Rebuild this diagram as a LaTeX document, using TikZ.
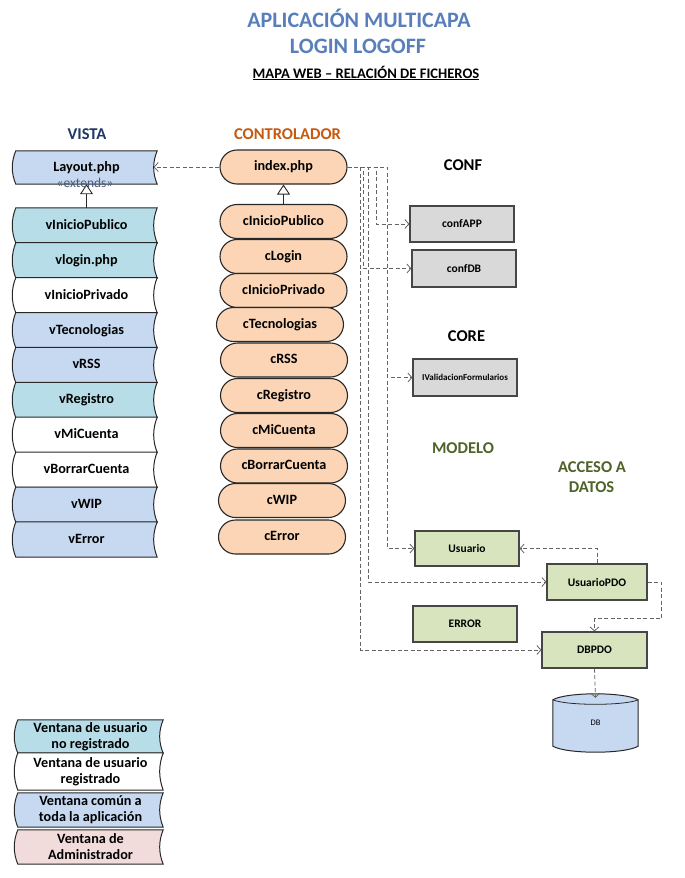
\documentclass[tikz,border=0pt]{standalone}
\usepackage{fontspec}
\setmainfont{Carlito}
\usetikzlibrary{arrows.meta,shapes.misc,backgrounds,calc}
\definecolor{titleblue}{RGB}{88,127,187}
\definecolor{vistacol}{RGB}{31,56,100}
\definecolor{ctrlcol}{RGB}{197,90,17}
\definecolor{olivecol}{RGB}{79,98,40}
\definecolor{vblue}{RGB}{198,217,241}
\definecolor{vteal}{RGB}{183,222,232}
\definecolor{vpink}{RGB}{242,220,219}
\definecolor{peach}{RGB}{251,213,181}
\definecolor{boxgray}{RGB}{217,217,217}
\definecolor{boxgreen}{RGB}{215,228,189}
\definecolor{edgecol}{RGB}{40,40,40}
\definecolor{redge}{RGB}{70,70,70}
\definecolor{dashcol}{RGB}{100,100,100}
\definecolor{extcol}{RGB}{75,90,125}
\newcommand\mybox{\fontsize{14.2}{17}\selectfont\bfseries}
\newcommand\myhead{\fontsize{16.5}{20}\selectfont\bfseries}
\newcommand\mytitle{\fontsize{22}{26}\selectfont\bfseries}
\newcommand\myrfont{\fontsize{11.5}{14}\selectfont\bfseries}
\newcommand\tapeoutline[2]{%
 \begin{pgfonlayer}{background}
 \draw[tapeline,fill=#2] (#1.north west) -- (#1.north east)
  .. controls ($(#1.north east)!0.333!(#1.south east)+(-4.7,0)$) and ($(#1.north east)!0.667!(#1.south east)+(-4.7,0)$) .. (#1.south east)
  -- (#1.south west)
  .. controls ($(#1.south west)!0.333!(#1.north west)+(-4.7,0)$) and ($(#1.south west)!0.667!(#1.north west)+(-4.7,0)$) .. (#1.north west) -- cycle;
 \end{pgfonlayer}}
\tikzset{
 vbox/.style={rectangle, minimum width=141pt, minimum height=34.9pt, inner sep=0pt, font=\mybox, text height=9.8pt, text depth=2pt},
 lbox/.style={rectangle, minimum width=145pt, inner sep=0pt, font=\mybox, align=center},
 pill/.style={rounded rectangle, draw=edgecol, line width=1.1pt, fill=peach, minimum width=127pt, minimum height=34pt, inner sep=0pt, font=\mybox, text height=9.8pt, text depth=2pt},
 rbox/.style={rectangle, draw=redge, line width=1.2pt, minimum width=104pt, minimum height=36pt, inner sep=0pt, font=\myrfont},
 dep/.style={dashcol, line width=0.8pt, dash pattern=on 4pt off 2.5pt, -{Straight Barb[length=4pt,width=9pt]}},
 inh/.style={edgecol, line width=0.9pt, -{Triangle[open,length=10pt,width=13pt,fill=white]}},
 tapeline/.style={draw=edgecol, line width=1pt},
 headlbl/.style={font=\myhead, anchor=base, inner sep=0pt},
 extlbl/.style={font=\fontsize{13.5}{15}\selectfont, text=extcol, inner sep=0pt},
}
\begin{document}
\begin{tikzpicture}[x=1pt,y=-1pt]
\useasboundingbox (0,0) rectangle (685,878);
\begin{pgfonlayer}{background}
\fill[white] (0,0) rectangle (685,878);
\end{pgfonlayer}

% titles
\node[font=\mytitle, text=titleblue, anchor=base, inner sep=0pt] (t1) at (359,27.5) {APLICACIÓN MULTICAPA};
\node[font=\mytitle, text=titleblue, anchor=base, inner sep=0pt] (t2) at (358,53) {LOGIN LOGOFF};
\node[font=\fontsize{14.6}{17}\selectfont\bfseries, anchor=base, inner sep=0pt] (sub) at (366,78) {\underline{MAPA WEB – RELACIÓN DE FICHEROS}};

% headings
\node[headlbl, text=vistacol] (hv) at (87,139) {VISTA};
\node[headlbl, text=ctrlcol] (hc) at (287.5,139) {CONTROLADOR};
\node[headlbl] (hconf) at (463,170) {CONF};
\node[headlbl] (hcore) at (466.5,341) {CORE};
\node[headlbl, text=olivecol] (hmod) at (463,453) {MODELO};
\node[headlbl, text=olivecol] (hacc) at (592,472) {ACCESO A};
\node[headlbl, text=olivecol] (hdat) at (591.5,492) {DATOS};

% VISTA column
\node[vbox, minimum height=33pt] (layout) at (86.5,167.5) {Layout.php};
\tapeoutline{layout}{vblue}
\node[vbox] (vip) at (86.5,225.45) {vInicioPublico};
\tapeoutline{vip}{vteal}
\node[vbox] (vlog) at (86.5,260.35) {vlogin.php};
\tapeoutline{vlog}{vteal}
\node[vbox] (vipr) at (86.5,295.25) {vInicioPrivado};
\tapeoutline{vipr}{white}
\node[vbox] (vtec) at (86.5,330.15) {vTecnologias};
\tapeoutline{vtec}{vblue}
\node[vbox] (vrss) at (86.5,365.05) {vRSS};
\tapeoutline{vrss}{vblue}
\node[vbox] (vreg) at (86.5,399.95) {vRegistro};
\tapeoutline{vreg}{vteal}
\node[vbox] (vmi) at (86.5,434.85) {vMiCuenta};
\tapeoutline{vmi}{white}
\node[vbox] (vbor) at (86.5,469.75) {vBorrarCuenta};
\tapeoutline{vbor}{white}
\node[vbox] (vwip) at (86.5,504.65) {vWIP};
\tapeoutline{vwip}{vblue}
\node[vbox] (verr) at (86.5,539.55) {vError};
\tapeoutline{verr}{vblue}
\draw[inh] (vip.north) -- (layout.south);
\node[extlbl] (extv) at (85,183) {«extends»};

% CONTROLADOR column
\node[extlbl, text=gray!60] (extc) at (283.5,180) {«extends»};
\node[pill] (idx) at (283.5,167) {index.php};
\node[pill] (cip) at (283.5,221.5) {cInicioPublico};
\node[pill] (clog) at (283.5,256.5) {cLogin};
\node[pill] (cipr) at (283.5,290.5) {cInicioPrivado};
\node[pill] (ctec) at (280,324.5) {cTecnologias};
\node[pill] (crss) at (284,360) {cRSS};
\node[pill] (creg) at (284,395.5) {cRegistro};
\node[pill] (cmi) at (284,430.5) {cMiCuenta};
\node[pill] (cbor) at (284,466) {cBorrarCuenta};
\node[pill] (cwip) at (282,500.5) {cWIP};
\node[pill] (cerr) at (282,537) {cError};
\draw[inh] (cip.north) -- (idx.south);

% right boxes
\node[rbox, fill=boxgray] (capp) at (462,224) {confAPP};
\node[rbox, fill=boxgray, minimum height=37pt] (cdb) at (464,268.5) {confDB};
\node[rbox, fill=boxgray, minimum height=37pt, font=\fontsize{9}{11}\selectfont\bfseries] (ival) at (465,377.5) {IValidacionFormularios};
\node[rbox, fill=boxgreen, minimum height=35pt] (usr) at (467,548.5) {Usuario};
\node[rbox, fill=boxgreen, minimum width=100pt] (updo) at (597,582) {UsuarioPDO};
\node[rbox, fill=boxgreen] (err) at (465,624) {ERROR};
\node[rbox, fill=boxgreen, minimum width=105pt] (dbpdo) at (594.5,650) {DBPDO};
\node[rectangle, minimum width=85pt, minimum height=58pt, inner sep=0pt, font=\fontsize{8.5}{10}\selectfont] (db) at (595.5,723) {DB};
\begin{pgfonlayer}{background}
\draw[draw=edgecol, line width=1pt, fill=vblue]
 ($(db.north west)+(0,6)$) .. controls ($(db.north west)+(14,-2)$) and ($(db.north east)+(-14,-2)$) .. ($(db.north east)+(0,6)$)
 -- ($(db.south east)+(0,-6)$)
 .. controls ($(db.south east)+(-14,2)$) and ($(db.south west)+(14,2)$) .. ($(db.south west)+(0,-6)$) -- cycle;
\draw[edgecol, line width=0.8pt]
 ($(db.north west)+(0,6)$) .. controls ($(db.north west)+(14,12)$) and ($(db.north east)+(-14,12)$) .. ($(db.north east)+(0,6)$);
\end{pgfonlayer}

% legend
\node[lbox, minimum height=33pt] (lg1) at (90.5,736.5) {Ventana de usuario\\[-1pt]no registrado};
\tapeoutline{lg1}{vteal}
\node[lbox, minimum height=37pt] (lg2) at (90.5,771.5) {Ventana de usuario\\[-1pt]registrado};
\tapeoutline{lg2}{white}
\node[lbox, minimum height=34pt] (lg3) at (90.5,810) {Ventana común a\\[-1pt]toda la aplicación};
\tapeoutline{lg3}{vblue}
\node[lbox, minimum height=34pt] (lg4) at (90.5,847) {Ventana de\\[-1pt]Administrador};
\tapeoutline{lg4}{vpink}

% connectors
\draw[dep] (idx.west) -- ([xshift=-3.5pt]idx.west -| layout.east);
\draw[dep] (idx.east) -| ($(ival.west)+(-25,0)$) -- (ival.west);
\draw[dep] (idx.east) -| ($(usr.west)+(-27,0)$) -- (usr.west);
\draw[dep] (idx.east) -| ($(capp.west)+(-33,0)$) -- (capp.west);
\draw[dep] (idx.east) -| ($(cdb.west)+(-48,0)$) -- (cdb.west);
\draw[dep] (idx.east) -| ($(updo.west)+(-178,0)$) -- (updo.west);
\draw[dep] (idx.east) -| ($(dbpdo.west)+(-181,0)$) -- (dbpdo.west);
\draw[dep] (updo.north) |- (usr.east);
\draw[dep] (updo.east) -- ++(14,0) |- ($(dbpdo.north)+(0,-13)$) -- (dbpdo.north);
\draw[dep] (dbpdo.south) -- ($(db.north)+(0,4)$);
\end{tikzpicture}
\end{document}
